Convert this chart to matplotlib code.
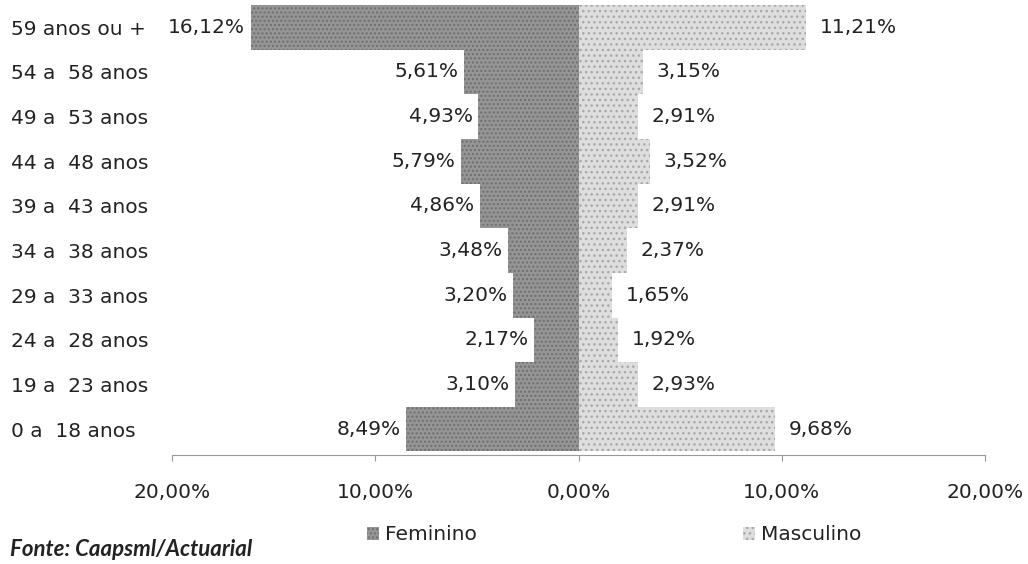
import matplotlib.pyplot as plt
import numpy as np
from matplotlib.patches import Patch

plt.rcParams['font.family'] = ['DejaVu Sans']

# dados da piramide (% da populacao)
faixas = ['0 a  18 anos', '19 a  23 anos', '24 a  28 anos', '29 a  33 anos',
          '34 a  38 anos', '39 a  43 anos', '44 a  48 anos', '49 a  53 anos',
          '54 a  58 anos', '59 anos ou +']
feminino = [8.49, 3.10, 2.17, 3.20, 3.48, 4.86, 5.79, 4.93, 5.61, 16.12]
masculino = [9.68, 2.93, 1.92, 1.65, 2.37, 2.91, 3.52, 2.91, 3.15, 11.21]
x_ticks = [-20, -10, 0, 10, 20]
x_tick_labels = ['20,00%', '10,00%', '0,00%', '10,00%', '20,00%']

cor_fem = '#959595'
cor_mas = '#dedede'
txt = '#222222'

def fmt(v):
    return f'{v:.2f}%'.replace('.', ',')

fig = plt.figure(figsize=(10.28, 5.64), dpi=100)
ax = fig.add_axes([172 / 1028, 1 - 455 / 564, (985 - 172) / 1028, 450 / 564])

y = np.arange(len(faixas))
b_fem = ax.barh(y, [-v for v in feminino], height=1.0, color=cor_fem,
                hatch='....', edgecolor='#6e6e6e', linewidth=0)
b_mas = ax.barh(y, masculino, height=1.0, color=cor_mas,
                hatch='...', edgecolor='#a8a8a8', linewidth=0)

ax.bar_label(b_fem, labels=[fmt(v) for v in feminino], padding=4,
             fontsize=14.5, color=txt)
ax.bar_label(b_mas, labels=[fmt(v) for v in masculino], padding=10,
             fontsize=14.5, color=txt)

ax.set_xlim(-20, 20)
ax.set_ylim(-0.58, 9.5)

ax.set_xticks(x_ticks)
ax.set_xticklabels(x_tick_labels, fontsize=14.5, color=txt)
ax.tick_params(axis='x', length=4, color='#999999', pad=16)

ax.set_yticks(y)
ax.set_yticklabels(faixas, fontsize=14.5, color=txt, ha='left')
ax.tick_params(axis='y', length=0, pad=116)

for s in ['top', 'right', 'left']:
    ax.spines[s].set_visible(False)
ax.spines['bottom'].set_color('#999999')
ax.spines['bottom'].set_linewidth(0.8)

handles = [Patch(facecolor=cor_fem, hatch='....', edgecolor='#6e6e6e', linewidth=0),
           Patch(facecolor=cor_mas, hatch='...', edgecolor='#a8a8a8', linewidth=0)]
fig.legend(handles, ['Feminino', 'Masculino'], loc='center',
           bbox_to_anchor=(614 / 1028, 1 - 535 / 564), ncol=2, frameon=False,
           fontsize=14.5, handlelength=0.6, handleheight=0.6,
           handletextpad=0.3, columnspacing=13.2, labelcolor=txt)

fig.text(10 / 1028, 1 - 550 / 564, 'Fonte: Caapsml/Actuarial', fontsize=16,
         family='Lato', fontweight='bold', fontstyle='italic', color=txt,
         va='center')

fig.savefig('out.png', dpi=100)
